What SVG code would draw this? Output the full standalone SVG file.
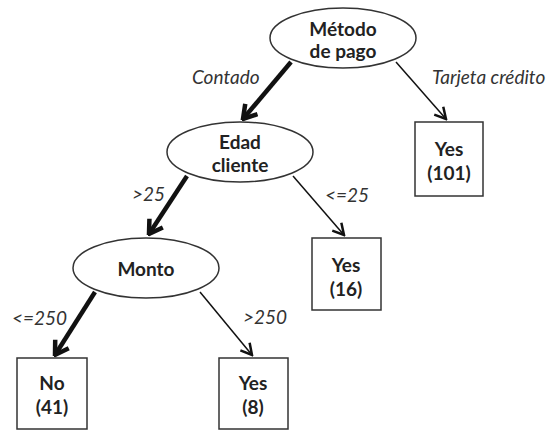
<svg xmlns="http://www.w3.org/2000/svg" width="555" height="432" viewBox="0 0 555 432">
<defs>
<style>
.n ellipse, .n rect { fill: #fff; stroke: #333; stroke-width: 1.5; }
.t { font-family: Lato, "Liberation Sans", sans-serif; font-weight: bold; font-size: 19px; fill: #222; text-anchor: middle; }
.l { font-family: Lato, "Liberation Sans", sans-serif; font-style: italic; font-size: 19px; fill: #333; }
.thick { stroke: #111; stroke-width: 4.5; fill: none; marker-end: url(#ah1); }
.thin { stroke: #111; stroke-width: 1.5; fill: none; marker-end: url(#ah2); }
</style>
<marker id="ah1" markerUnits="userSpaceOnUse" viewBox="-16 -10 18 20" refX="0" refY="0" markerWidth="18" markerHeight="20" orient="auto">
<path d="M -13 -8 L 0 0 L -13 8" fill="none" stroke="#111" stroke-width="4.5" stroke-linejoin="miter"/>
</marker>
<marker id="ah2" markerUnits="userSpaceOnUse" viewBox="-14 -9 16 18" refX="0" refY="0" markerWidth="16" markerHeight="18" orient="auto">
<path d="M -11 -6 L 0 0 L -11 6" fill="none" stroke="#111" stroke-width="2.5"/>
</marker>
</defs>
<rect width="555" height="432" fill="#fff"/>
<g id="connectors">
<line class="thick" x1="291" y1="62" x2="243" y2="119"/>
<line class="thin" x1="396" y1="62" x2="446" y2="119"/>
<line class="thick" x1="187" y1="176" x2="149" y2="234"/>
<line class="thin" x1="293" y1="176" x2="344" y2="235"/>
<line class="thick" x1="95" y1="292" x2="55" y2="355"/>
<line class="thin" x1="200" y1="292" x2="252" y2="355"/>
<text class="l" x="192" y="84">Contado</text>
<text class="l" x="432" y="84">Tarjeta crédito</text>
<text class="l" x="132" y="201">&gt;25</text>
<text class="l" x="325" y="202">&lt;=25</text>
<text class="l" x="12" y="325">&lt;=250</text>
<text class="l" x="243" y="324">&gt;250</text>
</g>
<g id="metodo" class="n">
<ellipse cx="343" cy="38" rx="73" ry="30"/>
<text class="t" x="343" y="36">Método</text>
<text class="t" x="343" y="58">de pago</text>
</g>
<g id="edad" class="n">
<ellipse cx="240" cy="152" rx="73" ry="30"/>
<text class="t" x="240" y="149">Edad</text>
<text class="t" x="240" y="172">cliente</text>
</g>
<g id="monto" class="n">
<ellipse cx="146" cy="268" rx="73" ry="30"/>
<text class="t" x="146" y="276">Monto</text>
</g>
<g id="yes101" class="n">
<rect x="415" y="122" width="68" height="74"/>
<text class="t" x="449" y="156">Yes</text>
<text class="t" x="449" y="180">(101)</text>
</g>
<g id="yes16" class="n">
<rect x="312" y="238" width="69" height="72"/>
<text class="t" x="346" y="272">Yes</text>
<text class="t" x="346" y="296">(16)</text>
</g>
<g id="no41" class="n">
<rect x="17" y="358" width="70" height="71"/>
<text class="t" x="52" y="390">No</text>
<text class="t" x="52" y="414">(41)</text>
</g>
<g id="yes8" class="n">
<rect x="219" y="358" width="69" height="71"/>
<text class="t" x="253" y="390">Yes</text>
<text class="t" x="253" y="414">(8)</text>
</g>
</svg>
